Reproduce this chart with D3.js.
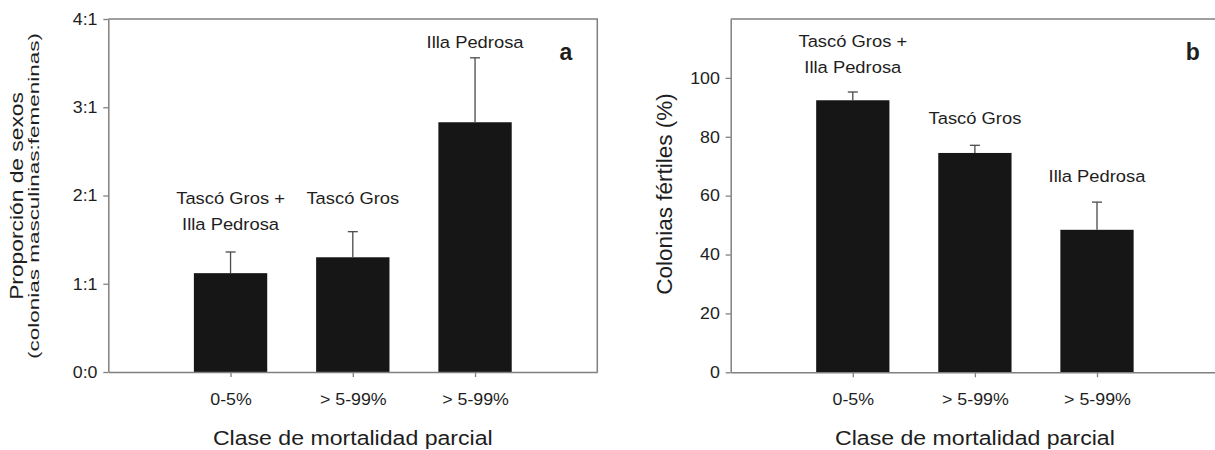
<!DOCTYPE html>
<html>
<head>
<meta charset="utf-8">
<script src="https://cdn.jsdelivr.net/npm/d3@7"></script>
<style>
  html, body { margin: 0; padding: 0; background: #ffffff; }
  svg { display: block; font-family: "Liberation Sans", Arial, Helvetica, sans-serif; }
</style>
</head>
<body>
<svg id="chart" width="1215" height="450"></svg>
<script>
// ---- data -------------------------------------------------------------
const categories = ["0-5%", "> 5-99%", "> 5-99%"];
const siteLabels = [["Tascó Gros +", "Illa Pedrosa"], ["Tascó Gros"], ["Illa Pedrosa"]];

// panel a: sex ratio (male:female colonies), mean and upper SE
const ratioMean  = [1.12, 1.30, 2.83];
const ratioUpper = [1.36, 1.59, 3.56];
const ratioTicks = [0, 1, 2, 3, 4];
const ratioTickLabels = ["0:0", "1:1", "2:1", "3:1", "4:1"];

// panel b: fertile colonies (%), mean and upper SE
const fertileMean  = [92.4, 74.5, 48.4];
const fertileUpper = [95.2, 77.1, 57.8];
const fertileTicks = [0, 20, 40, 60, 80, 100];
const fertileTickLabels = ["0", "20", "40", "60", "80", "100"];

const xTitle = "Clase de mortalidad parcial";

// ---- layout -----------------------------------------------------------
const panels = [
  {
    left: 108.3, right: 597.3, top: 19, bottom: 372,
    yMax: 4, mean: ratioMean, upper: ratioUpper,
    ticks: ratioTicks, tickLabels: ratioTickLabels,
    labelGap: [22, 28, 10], letter: "a", letterX: 566,
    yTitles: [
      { text: "Proporción de sexos", x: 23, size: 19, sx: 1.2 },
      { text: "(colonias masculinas:femeninas)", x: 38.5, size: 15.5, sx: 1.45 }
    ],
    yTitleY: 196
  },
  {
    left: 730.7, right: 1219.1, top: 19, bottom: 372.3,
    yMax: 120, mean: fertileMean, upper: fertileUpper,
    ticks: fertileTicks, tickLabels: fertileTickLabels,
    labelGap: [19, 21.5, 20], letter: "b", letterX: 1192.7,
    yTitles: [
      { text: "Colonias fértiles (%)", x: 672, size: 22.5, sx: 1 }
    ],
    yTitleY: 194
  }
];

const axisColor = "#808080";
const barColor = "#161616";
const errColor = "#4a4a4a";
const textColor = "#1e1e1e";
const textStretch = 1.08;  // horizontal text is set slightly wide
const lineStep = 26;       // line spacing for two-line site labels

const svg = d3.select("#chart");

// text placed through a transform so it can be widened along its baseline
function addText(g, x, y, str, o) {
  return g.append("text")
    .attr("transform", `translate(${x},${y}) rotate(${o.rot || 0}) scale(${o.sx || 1},1)`)
    .attr("text-anchor", o.anchor || "middle")
    .style("font-size", o.size + "px")
    .style("font-weight", o.weight || "normal")
    .style("fill", textColor)
    .text(str);
}

panels.forEach(p => {
  const g = svg.append("g");

  const x = d3.scaleLinear().domain([0, 4]).range([p.left, p.right]);
  const y = d3.scaleLinear().domain([0, p.yMax]).range([p.bottom, p.top]);
  const barW = x(0.6) - x(0);
  const idx = d3.range(p.mean.length);

  // bars
  g.selectAll("rect.bar").data(idx).join("rect")
    .attr("class", "bar")
    .attr("x", i => x(i + 1) - barW / 2)
    .attr("width", barW)
    .attr("y", i => y(p.mean[i]))
    .attr("height", i => y(0) - y(p.mean[i]))
    .attr("fill", barColor);

  // upper error whiskers with caps
  g.selectAll("line.err").data(idx).join("line")
    .attr("class", "err")
    .attr("x1", i => x(i + 1)).attr("x2", i => x(i + 1))
    .attr("y1", i => y(p.mean[i])).attr("y2", i => y(p.upper[i]))
    .attr("stroke", errColor).attr("stroke-width", 1.3);
  g.selectAll("line.cap").data(idx).join("line")
    .attr("class", "cap")
    .attr("x1", i => x(i + 1) - 5).attr("x2", i => x(i + 1) + 5)
    .attr("y1", i => y(p.upper[i])).attr("y2", i => y(p.upper[i]))
    .attr("stroke", errColor).attr("stroke-width", 1.3);

  // frame: top and right edges
  g.append("path")
    .attr("d", `M${x(0)},${y(p.yMax)}H${x(4)}V${y(0)}`)
    .attr("fill", "none").attr("stroke", axisColor).attr("stroke-width", 1.5);

  // y axis
  const yAxis = g.append("g")
    .attr("transform", `translate(${x(0)},0)`)
    .call(d3.axisLeft(y).tickValues(p.ticks)
      .tickFormat((d, i) => p.tickLabels[i])
      .tickSize(5).tickSizeOuter(0).tickPadding(5));

  // x axis
  const xAxis = g.append("g")
    .attr("transform", `translate(0,${y(0)})`)
    .call(d3.axisBottom(x).tickValues([1, 2, 3])
      .tickFormat(d => categories[d - 1])
      .tickSize(5).tickSizeOuter(0).tickPadding(16));

  [yAxis, xAxis].forEach(a => {
    a.select(".domain").attr("stroke", axisColor).attr("stroke-width", 1.5);
    a.selectAll(".tick line").attr("stroke", axisColor).attr("stroke-width", 1.3);
    a.selectAll(".tick text")
      .style("font-size", "16.5px")
      .style("font-family", "'Liberation Sans', Arial, sans-serif")
      .attr("fill", textColor);
  });
  yAxis.selectAll(".tick text").attr("transform", `scale(${textStretch},1)`);
  // widen x tick labels about their own centre
  xAxis.selectAll(".tick text").each(function () {
    const t = d3.select(this);
    const yy = +t.attr("y");
    t.attr("y", null).attr("dy", null)
     .attr("transform", `translate(0,${yy + 11.7}) scale(${textStretch},1)`);
  });

  // site labels above each bar
  idx.forEach(i => {
    const lines = siteLabels[i];
    const base = y(p.upper[i]) - p.labelGap[i];
    lines.forEach((s, k) => {
      addText(g, x(i + 1), base - (lines.length - 1 - k) * lineStep, s,
        { size: 17, sx: textStretch });
    });
  });

  // panel letter
  addText(g, p.letterX, 60, p.letter, { size: 23, weight: "bold", sx: 1 });

  // axis titles
  addText(g, (x(0) + x(4)) / 2, 444.5, xTitle, { size: 21, sx: 1.1 });
  p.yTitles.forEach(t => {
    addText(g, t.x, p.yTitleY, t.text, { size: t.size, sx: t.sx, rot: -90 });
  });
});
</script>
</body>
</html>
